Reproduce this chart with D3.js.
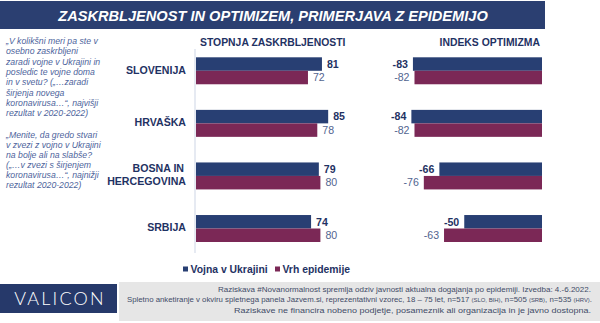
<!DOCTYPE html>
<html>
<head>
<meta charset="utf-8">
<script src="https://cdn.jsdelivr.net/npm/d3@7"></script>
<style>
  body { margin: 0; background: #fff; }
  svg { display: block; font-family: "Liberation Sans", Arial, sans-serif; }
</style>
</head>
<body>
<svg id="chart" width="600" height="323"></svg>
<script>
// countries and the two survey waves
const countries = ['SLOVENIJA', 'HRVAŠKA', 'BOSNA IN HERCEGOVINA', 'SRBIJA'];
const series = ['Vojna v Ukrajini', 'Vrh epidemije'];
const worryWar = [81, 85, 79, 74];
const worryEpidemic = [72, 78, 80, 80];
const optimismWar = [-83, -84, -66, -50];
const optimismEpidemic = [-82, -82, -76, -63];

const questionWorry = [
  '„V kolikšni meri pa ste v',
  'osebno zaskrbljeni',
  'zaradi vojne v Ukrajini in',
  'posledic te vojne doma',
  'in v svetu? („…zaradi',
  'širjenja novega',
  'koronavirusa…“,  najvišji',
  'rezultat v 2020-2022)'
];
const questionOptimism = [
  '„Menite,  da gredo stvari',
  'v zvezi z vojno v Ukrajini',
  'na bolje ali na slabše?',
  '(„…v  zvezi s širjenjem',
  'koronavirusa…“,  najnižji',
  'rezultat 2020-2022)'
];

const navy = '#283f73', plum = '#7b2856';
const textNavy = '#1f3263', textSoft = '#52648f';

const svg = d3.select('#chart');

// title banner
svg.append('rect')
  .attr('x', 0).attr('y', 1).attr('width', 545).attr('height', 28)
  .attr('fill', '#2b3f71');
svg.append('text')
  .attr('x', 273).attr('y', 20.5)
  .attr('text-anchor', 'middle')
  .attr('fill', '#fff')
  .style('font-size', '14.6px').style('font-weight', 'bold').style('font-style', 'italic')
  .text('ZASKRBLJENOST IN OPTIMIZEM,  PRIMERJAVA Z EPIDEMIJO');

// question notes on the left
const notes = svg.append('g')
  .attr('fill', '#4e649c')
  .style('font-size', '8.7px').style('font-style', 'italic');
questionWorry.forEach((t, i) => {
  notes.append('text').attr('x', 6).attr('y', 44.2 + i * 10.27).text(t);
});
questionOptimism.forEach((t, i) => {
  notes.append('text').attr('x', 6).attr('y', 138.4 + i * 10).text(t);
});

// shared vertical layout
const y = d3.scaleBand()
  .domain(countries)
  .range([57.3, 242])
  .paddingInner(0.487)
  .paddingOuter(0);
const ySub = d3.scaleBand()
  .domain(series)
  .range([0, y.bandwidth()]);

const xWorry = d3.scaleLinear().domain([0, 100]).range([196, 351.5]);
const xOpt = d3.scaleLinear().domain([-100, 0]).range([386.5, 542]);

// column headers
svg.append('text')
  .attr('x', 200).attr('y', 46)
  .attr('fill', textNavy)
  .style('font-size', '10.4px').style('font-weight', 'bold')
  .text('STOPNJA ZASKRBLJENOSTI');
svg.append('text')
  .attr('x', 439.5).attr('y', 46)
  .attr('fill', textNavy)
  .style('font-size', '10.4px').style('font-weight', 'bold')
  .text('INDEKS OPTIMIZMA');

// category labels
const cats = svg.append('g')
  .attr('fill', textNavy)
  .style('font-size', '10.6px').style('font-weight', 'bold')
  .attr('text-anchor', 'end');
countries.forEach(c => {
  const mid = y(c) + ySub('Vrh epidemije') - 1;
  if (c === 'BOSNA IN HERCEGOVINA') {
    const t = cats.append('text').attr('x', 186);
    t.append('tspan').attr('x', 184).attr('y', mid - 6.7 + 3.8).text('BOSNA IN');
    t.append('tspan').attr('x', 186).attr('y', mid + 6.7 + 3.8).text('HERCEGOVINA');
  } else {
    cats.append('text').attr('x', 186).attr('y', mid + 3.8).text(c);
  }
});

// baseline of the worry panel
svg.append('line')
  .attr('x1', 195).attr('x2', 195)
  .attr('y1', 49).attr('y2', 253)
  .attr('stroke', '#e6eaf2').attr('stroke-width', 2);

const worryRows = countries.map((c, i) => [
  {c, s: series[0], v: worryWar[i]},
  {c, s: series[1], v: worryEpidemic[i]}
]).flat();
const optRows = countries.map((c, i) => [
  {c, s: series[0], v: optimismWar[i]},
  {c, s: series[1], v: optimismEpidemic[i]}
]).flat();

const colour = d3.scaleOrdinal().domain(series).range([navy, plum]);

// worry bars
const worry = svg.append('g');
worry.selectAll('rect')
  .data(worryRows)
  .join('rect')
  .attr('x', xWorry(0))
  .attr('y', d => y(d.c) + ySub(d.s))
  .attr('width', d => xWorry(d.v) - xWorry(0))
  .attr('height', ySub.bandwidth())
  .attr('fill', d => colour(d.s));
worry.selectAll('text')
  .data(worryRows)
  .join('text')
  .attr('x', d => xWorry(d.v) + 5)
  .attr('y', d => y(d.c) + ySub(d.s) + ySub.bandwidth() / 2 + 3.8)
  .attr('fill', d => d.s === series[0] ? textNavy : textSoft)
  .style('font-size', '10.6px')
  .style('font-weight', d => d.s === series[0] ? 'bold' : 'normal')
  .text(d => d.v);

// optimism bars
const opt = svg.append('g');
opt.selectAll('rect')
  .data(optRows)
  .join('rect')
  .attr('x', d => xOpt(d.v))
  .attr('y', d => y(d.c) + ySub(d.s))
  .attr('width', d => xOpt(0) - xOpt(d.v))
  .attr('height', ySub.bandwidth())
  .attr('fill', d => colour(d.s));
opt.selectAll('text')
  .data(optRows)
  .join('text')
  .attr('x', d => xOpt(d.v) - 5)
  .attr('y', d => y(d.c) + ySub(d.s) + ySub.bandwidth() / 2 + 3.8)
  .attr('text-anchor', 'end')
  .attr('fill', d => d.s === series[0] ? textNavy : textSoft)
  .style('font-size', '10.6px')
  .style('font-weight', d => d.s === series[0] ? 'bold' : 'normal')
  .text(d => d.v);

// legend
const legend = svg.append('g')
  .attr('fill', textNavy)
  .style('font-size', '10.4px').style('font-weight', 'bold');
const legendX = [183, 275];
series.forEach((s, i) => {
  legend.append('rect')
    .attr('x', legendX[i]).attr('y', 266.5)
    .attr('width', 5).attr('height', 5)
    .attr('fill', colour(s));
  legend.append('text')
    .attr('x', legendX[i] + 7.5).attr('y', 272.8)
    .text(s);
});

// footer: logo block and source note
svg.append('rect')
  .attr('x', 119).attr('y', 282).attr('width', 481).attr('height', 39)
  .attr('fill', '#e6e6e6');
svg.append('rect')
  .attr('x', 0).attr('y', 284).attr('width', 117).attr('height', 29)
  .attr('fill', '#26396a');
svg.append('text')
  .attr('x', 60).attr('y', 305)
  .attr('text-anchor', 'middle')
  .attr('fill', '#fff')
  .style('font-family', 'Lato, "Open Sans", sans-serif')
  .style('font-size', '18px').style('font-weight', 300)
  .style('letter-spacing', '2.2px')
  .text('VALICON');

const foot = svg.append('g')
  .attr('fill', '#3f4b66')
  .style('font-size', '7.4px')
  .attr('text-anchor', 'end');
foot.append('text')
  .attr('x', 591).attr('y', 291.5)
  .attr('textLength', 373).attr('lengthAdjust', 'spacingAndGlyphs')
  .text('Raziskava #Novanormalnost spremlja odziv javnosti aktualna dogajanja po epidemiji. Izvedba: 4.-6.2022.');
const line2 = foot.append('text')
  .attr('x', 592).attr('y', 302)
  .attr('textLength', 465).attr('lengthAdjust', 'spacingAndGlyphs');
line2.append('tspan').text('Spletno anketiranje v okviru spletnega panela Jazvem.si, reprezentativni vzorec, 18 – 75 let, n=517 ');
line2.append('tspan').style('font-size', '5.6px').text('(SLO, BIH)');
line2.append('tspan').text(', n=505 ');
line2.append('tspan').style('font-size', '5.6px').text('(SRB)');
line2.append('tspan').text(', n=535 ');
line2.append('tspan').style('font-size', '5.6px').text('(HRV)');
line2.append('tspan').text('.');
foot.append('text')
  .attr('x', 591).attr('y', 312.5)
  .attr('textLength', 357).attr('lengthAdjust', 'spacingAndGlyphs')
  .text('Raziskave ne financira nobeno podjetje, posameznik ali organizacija in je javno dostopna.');
</script>
</body>
</html>
